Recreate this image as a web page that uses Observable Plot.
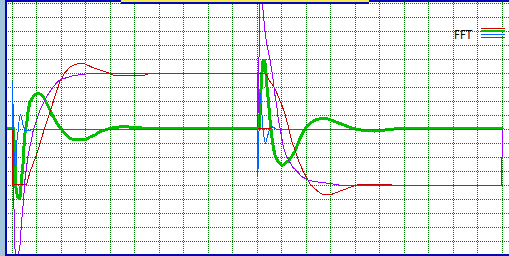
<!DOCTYPE html>
<html><head><meta charset="utf-8">
<script src="https://cdn.jsdelivr.net/npm/d3@7"></script>
<script src="https://cdn.jsdelivr.net/npm/@observablehq/plot@0.6"></script>
<style>
html,body{margin:0;padding:0;background:#fff;}
#wrap{position:relative;width:509px;height:256px;overflow:hidden;background:#fff;}
#wrap svg{position:absolute;left:0;top:0;}
.deco{position:absolute;}
#lbl{position:absolute;left:454px;top:28px;font:13px "DejaVu Sans",sans-serif;line-height:13px;color:#000;transform:scaleX(0.8);transform-origin:0 0;white-space:nowrap;}
</style>
</head><body>
<div id="wrap"></div>
<script>
// time in screen divisions, value in vertical divisions
const gridX = d3.range(0, 21);
const gridY = d3.range(-9, 10);
const legendLabel = "FFT";
const seriesNames = ["red", "green", "blue", "purple"];
const seriesColors = ["#cc0000", "#00c000", "#0064ff", "#a000ff"];

const redTrace = [[-0.22,0],[0.01,0],[0.01,-3.96],[0.52,-3.96],[0.59,-3.89],[0.72,-3.04],[1.0,-1.75],[1.31,0.04],[1.54,1.25],[1.74,2.36],[1.95,3.46],[2.15,4.07],[2.36,4.46],[2.56,4.66],[2.76,4.71],[2.97,4.68],[3.24,4.46],[3.5,4.30],[3.78,4.13],[3.99,4.0],[4.11,3.89],[5.42,3.89],[5.62,4.0],[10.01,4.0],[10.23,4.0],[10.36,3.93],[10.52,3.43],[10.72,2.93],[10.86,2.34],[11.0,1.75],[11.13,1.11],[11.27,0.18],[11.4,-0.82],[11.54,-1.46],[11.67,-2.18],[11.88,-3.0],[12.15,-3.89],[12.36,-4.25],[12.49,-4.44],[12.63,-4.61],[13.04,-4.63],[13.44,-4.36],[13.85,-4.09],[14.11,-3.93],[15.42,-3.93],[15.54,-4.0],[19.97,-4.0],[NaN,NaN],[10.03,0.07],[10.52,0.07]];

const purpleTrace = [[-0.22,0],[0.04,0],[0.06,-5.0],[0.12,-9.18],[0.22,-9.18],[0.31,-8.39],[0.38,-6.54],[0.45,-5.25],[0.52,-3.54],[0.65,-1.75],[0.79,-0.68],[0.86,0],[1.13,1.39],[1.40,2.34],[1.67,3.06],[1.88,3.46],[2.02,3.61],[2.22,3.70],[2.42,3.82],[2.69,3.89],[2.97,3.96],[3.24,4.0],[10.0,4.0],[10.02,0.3],[10.11,9.11],[10.15,9.5],[10.21,9.25],[10.24,8.32],[10.31,7.11],[10.38,6.16],[10.52,4.96],[10.65,3.54],[10.72,2.46],[10.79,1.75],[10.86,0.68],[10.93,0.11],[11.06,-1.25],[11.20,-1.96],[11.27,-2.18],[11.47,-2.75],[11.54,-2.84],[11.81,-3.36],[12.08,-3.61],[12.36,-3.73],[12.56,-3.77],[12.90,-3.84],[13.31,-3.96],[13.58,-4.0],[19.97,-4.0],[19.97,-2.0],[20.0,-2.0],[20.0,0]];

const greenTrace = [[-0.22,0.07],[0.05,0.07],[0.07,-0.75],[0.11,-2.25],[0.15,-4.18],[0.19,-4.61],[0.24,-4.89],[0.29,-4.93],[0.33,-4.68],[0.38,-3.46],[0.45,-2.25],[0.48,-1.11],[0.52,-0.25],[0.59,0.46],[0.65,1.39],[0.72,1.96],[0.86,2.36],[0.97,2.54],[1.06,2.59],[1.17,2.50],[1.27,2.34],[1.47,1.63],[1.67,0.91],[1.88,0.29],[1.95,0.14],[2.15,-0.29],[2.36,-0.64],[2.56,-0.73],[2.97,-0.75],[3.17,-0.54],[3.38,-0.39],[3.58,-0.14],[3.92,0.04],[4.19,0.16],[4.60,0.20],[5.01,0.14],[5.42,0.09],[10.01,0.07],[10.09,0.07],[10.13,2.11],[10.17,3.54],[10.22,4.82],[10.29,4.93],[10.34,4.49],[10.38,3.30],[10.45,2.11],[10.52,0.68],[10.59,-0.46],[10.65,-1.25],[10.72,-1.82],[10.86,-2.32],[11.0,-2.54],[11.06,-2.54],[11.13,-2.41],[11.27,-2.25],[11.40,-1.94],[11.54,-1.54],[11.67,-0.96],[11.81,-0.39],[11.95,0.04],[12.15,0.44],[12.36,0.68],[12.63,0.80],[12.90,0.75],[13.17,0.56],[13.44,0.39],[13.71,0.20],[13.99,0.04],[14.40,-0.09],[14.80,-0.11],[15.21,-0.04],[15.62,0.04],[19.99,0.07]];

const blueTrace = [[-0.22,0],[0.02,0],[0.02,3.41],[0.04,0],[0.09,-2.54],[0.16,-2.54],[0.19,-0.75],[0.24,-0.11],[0.29,0.89],[0.34,1.04],[0.38,0.80],[0.45,0.20],[0.52,-0.07],[0.72,-0.09],[0.79,0],[10.02,0],[10.02,-3.36],[10.05,-1.46],[10.11,2.59],[10.15,1.87],[10.20,0.91],[10.24,-0.04],[10.29,-0.75],[10.34,-0.99],[10.38,-0.75],[10.45,-0.27],[10.52,0.09],[10.59,0.20],[10.72,0.09],[10.80,0],[19.99,0]];

const toRows = tr => tr.map(([t, v]) => ({t, v}));
const lineOpts = (color, w) => ({x: "t", y: "v", stroke: color, strokeWidth: w, clip: true, shapeRendering: "crispEdges"});

const chart = Plot.plot({
  width: 509, height: 256, margin: 0,
  x: {domain: [0, 20], range: [11.8, 501.8], axis: null},
  y: {domain: [-9, 9], range: [255, 3], axis: null},
  style: {background: "transparent"},
  marks: [
    Plot.ruleX(gridX, {stroke: "#008000", strokeDasharray: "1,1", shapeRendering: "crispEdges"}),
    Plot.ruleY(gridY, {stroke: "#008000", strokeDasharray: "1,1", shapeRendering: "crispEdges"}),
    Plot.line(toRows(greenTrace), lineOpts(seriesColors[1], 3)),
    Plot.line(toRows(blueTrace), lineOpts(seriesColors[2], 1)),
    Plot.line(toRows(redTrace), lineOpts(seriesColors[0], 1)),
    Plot.line(toRows(purpleTrace), lineOpts(seriesColors[3], 1))
  ]
});
const wrap = document.getElementById("wrap");
wrap.appendChild(chart);

// decorative frame
function box(l, t, w, h, c) {
  const d = document.createElement("div");
  d.className = "deco";
  Object.assign(d.style, {left: l + "px", top: t + "px", width: w + "px", height: h + "px", background: c});
  wrap.appendChild(d);
}
const frameBlue = "#0008b8";
box(0, 0, 5, 256, "#a4c6dc");
box(5, 0, 2, 256, frameBlue);
box(5, 0, 116, 2, frameBlue);
box(121, 0, 248, 2, "#f6ea50");
box(121, 2, 248, 2, frameBlue);
box(369, 0, 140, 2, frameBlue);
box(5, 254, 504, 2, frameBlue);

// legend
const lbl = document.createElement("div");
lbl.id = "lbl";
lbl.textContent = legendLabel;
wrap.appendChild(lbl);
const swTop = [28, 30, 34, 37], swH = [1, 2, 1, 1];
seriesNames.forEach((n, i) => box(481, swTop[i], 24, swH[i], seriesColors[i]));
</script>
</body></html>
